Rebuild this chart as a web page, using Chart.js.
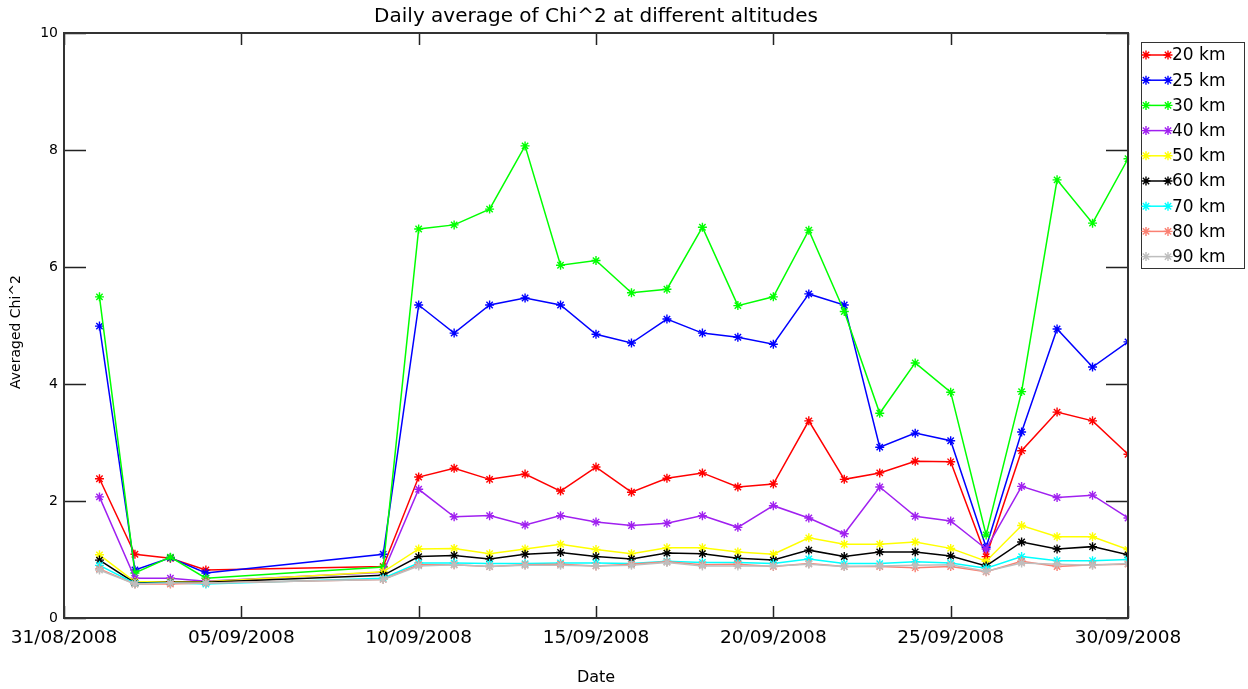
<!DOCTYPE html>
<html>
<head>
<meta charset="utf-8">
<script src="https://cdn.jsdelivr.net/npm/chart.js@4.4.0/dist/chart.umd.min.js"></script>
<style>
html,body{margin:0;padding:0;background:#fff;}
#wrap{width:1248px;height:689px;}
</style>
</head>
<body>
<div id="wrap"><canvas id="c" width="1248" height="689"></canvas></div>
<script>
// Day offsets from 31/08/2008
const days = [1,2,3,4,9,10,11,12,13,14,15,16,17,18,19,20,21,22,23,24,25,26,27,28,29,30];
const tickLabels = ['31/08/2008','05/09/2008','10/09/2008','15/09/2008','20/09/2008','25/09/2008','30/09/2008'];
const seriesNames = ['20 km','25 km','30 km','40 km','50 km','60 km','70 km','80 km','90 km'];
const seriesColors = ['#ff0000','#0000ff','#00ff00','#a020f0','#ffff00','#000000','#00ffff','#fa8072','#bebebe'];

const km20 = [2.38,1.09,1.02,0.82,0.88,2.41,2.56,2.37,2.46,2.17,2.58,2.15,2.39,2.48,2.24,2.29,3.37,2.37,2.48,2.68,2.67,1.05,2.86,3.52,3.37,2.80];
const km25 = [4.99,0.82,1.03,0.77,1.09,5.35,4.87,5.35,5.47,5.35,4.85,4.70,5.11,4.87,4.80,4.68,5.54,5.35,2.92,3.16,3.03,1.21,3.18,4.94,4.29,4.72];
const km30 = [5.49,0.77,1.04,0.68,0.87,6.65,6.72,6.99,8.07,6.03,6.11,5.56,5.62,6.68,5.34,5.49,6.63,5.24,3.50,4.36,3.86,1.42,3.87,7.49,6.75,7.85];
const km40 = [2.07,0.68,0.68,0.63,0.78,2.20,1.73,1.75,1.59,1.75,1.64,1.58,1.62,1.75,1.55,1.92,1.71,1.44,2.24,1.74,1.66,1.18,2.25,2.06,2.10,1.71];
const km50 = [1.08,0.62,0.62,0.62,0.79,1.18,1.19,1.10,1.18,1.26,1.17,1.10,1.20,1.20,1.13,1.09,1.37,1.26,1.26,1.30,1.19,0.97,1.58,1.39,1.39,1.17];
const km60 = [0.99,0.60,0.61,0.61,0.73,1.05,1.07,1.01,1.09,1.12,1.05,1.01,1.11,1.10,1.02,0.99,1.16,1.05,1.13,1.13,1.06,0.89,1.30,1.18,1.22,1.08];
const km70 = [0.90,0.59,0.60,0.58,0.68,0.94,0.94,0.93,0.93,0.94,0.94,0.93,0.97,0.95,0.95,0.93,1.01,0.93,0.93,0.96,0.94,0.85,1.05,0.98,0.98,1.00];
const km80 = [0.84,0.58,0.58,0.60,0.66,0.91,0.91,0.88,0.91,0.92,0.89,0.92,0.96,0.91,0.92,0.88,0.93,0.88,0.88,0.86,0.88,0.79,0.97,0.88,0.91,0.92];
const km90 = [0.82,0.58,0.60,0.60,0.66,0.89,0.91,0.88,0.90,0.90,0.89,0.90,0.95,0.89,0.89,0.89,0.92,0.88,0.89,0.90,0.91,0.80,0.94,0.92,0.90,0.93];

const allSeries = [km20,km25,km30,km40,km50,km60,km70,km80,km90];

const datasets = allSeries.map((vals, i) => ({
  label: seriesNames[i],
  data: vals.map((v, j) => ({x: days[j], y: v})),
  borderColor: seriesColors[i],
  backgroundColor: seriesColors[i],
  borderWidth: 1.5,
  pointStyle: 'star',
  pointRadius: 4.5,
  pointBorderWidth: 1.4,
  pointHoverRadius: 4.5,
  tension: 0,
  order: allSeries.length - 1 - i
}));

const FONT = 'DejaVu Sans';

const framePlugin = {
  id: 'frame',
  beforeDatasetsDraw(chart) {
    const {ctx, chartArea: a, scales: {x, y}} = chart;
    ctx.save();
    ctx.strokeStyle = '#222';
    ctx.lineWidth = 1.5;
    ctx.beginPath();
    x.ticks.forEach(t => {
      const px = Math.round(x.getPixelForValue(t.value)) + 0.5;
      ctx.moveTo(px, a.bottom); ctx.lineTo(px, a.bottom - 12);
      ctx.moveTo(px, a.top); ctx.lineTo(px, a.top + 12);
    });
    y.ticks.forEach(t => {
      const py = Math.round(y.getPixelForValue(t.value)) + 0.5;
      ctx.moveTo(a.left, py); ctx.lineTo(a.left + 22, py);
      ctx.moveTo(a.right, py); ctx.lineTo(a.right - 22, py);
    });
    ctx.stroke();
    ctx.restore();
  },
  afterDraw(chart) {
    const {ctx, chartArea: a} = chart;
    ctx.save();
    ctx.strokeStyle = '#333';
    ctx.lineWidth = 2;
    ctx.strokeRect(a.left, a.top, a.right - a.left, a.bottom - a.top);
    // title
    ctx.fillStyle = '#000';
    ctx.font = '20px "' + FONT + '"';
    ctx.textAlign = 'center';
    ctx.textBaseline = 'middle';
    ctx.fillText('Daily average of Chi^2 at different altitudes', (a.left + a.right) / 2, 17);
    // y axis title
    ctx.save();
    ctx.translate(16, 332);
    ctx.rotate(-Math.PI / 2);
    ctx.font = '14px "' + FONT + '"';
    ctx.fillText('Averaged Chi^2', 0, 0);
    ctx.restore();
    // legend
    const bx = 1141, by = 42, bw = 103, bh = 226;
    ctx.strokeStyle = '#333';
    ctx.lineWidth = 1;
    ctx.strokeRect(bx + 0.5, by + 0.5, bw, bh);
    ctx.font = '17px "' + FONT + '"';
    ctx.textAlign = 'left';
    seriesNames.forEach((name, i) => {
      const ly = by + 13 + i * 25.2;
      ctx.strokeStyle = seriesColors[i];
      ctx.lineWidth = 1.5;
      ctx.beginPath();
      ctx.moveTo(1146, ly); ctx.lineTo(1168, ly);
      ctx.stroke();
      ctx.lineWidth = 1.4;
      Chart.helpers.drawPoint(ctx, {pointStyle: 'star', radius: 4.5, borderWidth: 1.4}, 1146, ly);
      Chart.helpers.drawPoint(ctx, {pointStyle: 'star', radius: 4.5, borderWidth: 1.4}, 1168, ly);
      ctx.fillStyle = '#000';
      ctx.fillText(name, 1172, ly + 1);
    });
    ctx.restore();
  }
};

new Chart(document.getElementById('c'), {
  type: 'line',
  data: {datasets},
  options: {
    responsive: false,
    animation: false,
    layout: {padding: {left: 0, right: 120, top: 33, bottom: 0}},
    plugins: {legend: {display: false}, title: {display: false}, tooltip: {enabled: false}},
    scales: {
      x: {
        type: 'linear', min: 0, max: 30,
        afterFit: s => { s.height = 71; },
        afterBuildTicks: s => { s.ticks = tickLabels.map((_, i) => ({value: i * 5})); },
        ticks: {
          autoSkip: false, maxRotation: 0,
          callback: v => tickLabels[Math.round(v / 5)],
          font: {family: FONT, size: 18.5}, color: '#000', padding: 9
        },
        grid: {display: false, drawTicks: false},
        border: {display: false},
        title: {display: true, text: 'Date', font: {family: FONT, size: 16}, color: '#000', padding: {top: 0, bottom: 2}}
      },
      y: {
        min: 0, max: 10,
        afterFit: s => { s.width = 64; },
        ticks: {stepSize: 2, font: {family: FONT, size: 14}, color: '#000', padding: 6},
        grid: {display: false, drawTicks: false},
        border: {display: false},
        title: {display: false}
      }
    }
  },
  plugins: [framePlugin]
});
</script>
</body>
</html>
